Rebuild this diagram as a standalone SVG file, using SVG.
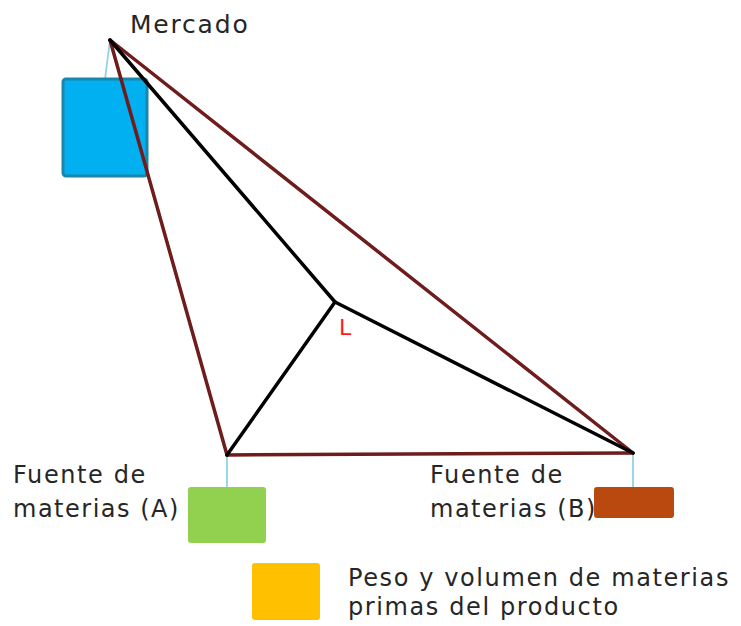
<svg xmlns="http://www.w3.org/2000/svg" width="741" height="626" viewBox="0 0 741 626">
<style>
.t{font-family:"DejaVu Sans","Verdana",sans-serif;font-size:24px;fill:#262626;letter-spacing:1.6px}
.tri{stroke:#6e1c1c;stroke-width:3.5;fill:none;stroke-linecap:round}
.blk{stroke:#000;stroke-width:3.5;fill:none;stroke-linecap:round}
.tie{stroke:#8fd3e8;stroke-width:1.8;fill:none}
</style>
<rect width="741" height="626" fill="#fff"/>
<g id="connectors">
<line class="tie" x1="110" y1="40" x2="105" y2="79"/>
<line class="tie" x1="227" y1="455" x2="227" y2="487"/>
<line class="tie" x1="633" y1="453" x2="633" y2="487"/>
</g>
<g id="mercado">
<rect x="63" y="79" width="84" height="97" rx="3" fill="#00b0f0" stroke="#1a86a8" stroke-width="3"/>
<text class="t" x="130" y="33" style="font-size:25px;letter-spacing:1.8px">Mercado</text>
</g>
<g id="fuenteA">
<rect x="188" y="487" width="78" height="56" rx="3" fill="#92d050"/>
<text class="t" x="13" y="483">Fuente de</text>
<text class="t" x="13" y="517" style="letter-spacing:1.5px">materias (A)</text>
</g>
<g id="fuenteB">
<rect x="594" y="487" width="80" height="31" rx="3" fill="#b9490f"/>
<text class="t" x="430" y="483">Fuente de</text>
<text class="t" x="430" y="517" style="letter-spacing:1.5px">materias (B)</text>
</g>
<g id="edges">
<line class="tri" x1="110" y1="40" x2="227" y2="455"/>
<line class="tri" x1="110" y1="40" x2="633" y2="453"/>
<line class="tri" x1="227" y1="455" x2="633" y2="453"/>
<line class="blk" x1="335" y1="302" x2="110" y2="40"/>
<line class="blk" x1="335" y1="302" x2="227" y2="455"/>
<line class="blk" x1="335" y1="302" x2="633" y2="453"/>
</g>
<g id="L">
<text x="339" y="335" style="font-family:'DejaVu Sans',sans-serif;font-size:22px;fill:#ff1a1a">L</text>
</g>
<g id="legend">
<rect x="252" y="563" width="68" height="57" rx="3" fill="#ffc000"/>
<text class="t" x="348" y="586">Peso y volumen de materias</text>
<text class="t" x="348" y="615">primas del producto</text>
</g>
</svg>
